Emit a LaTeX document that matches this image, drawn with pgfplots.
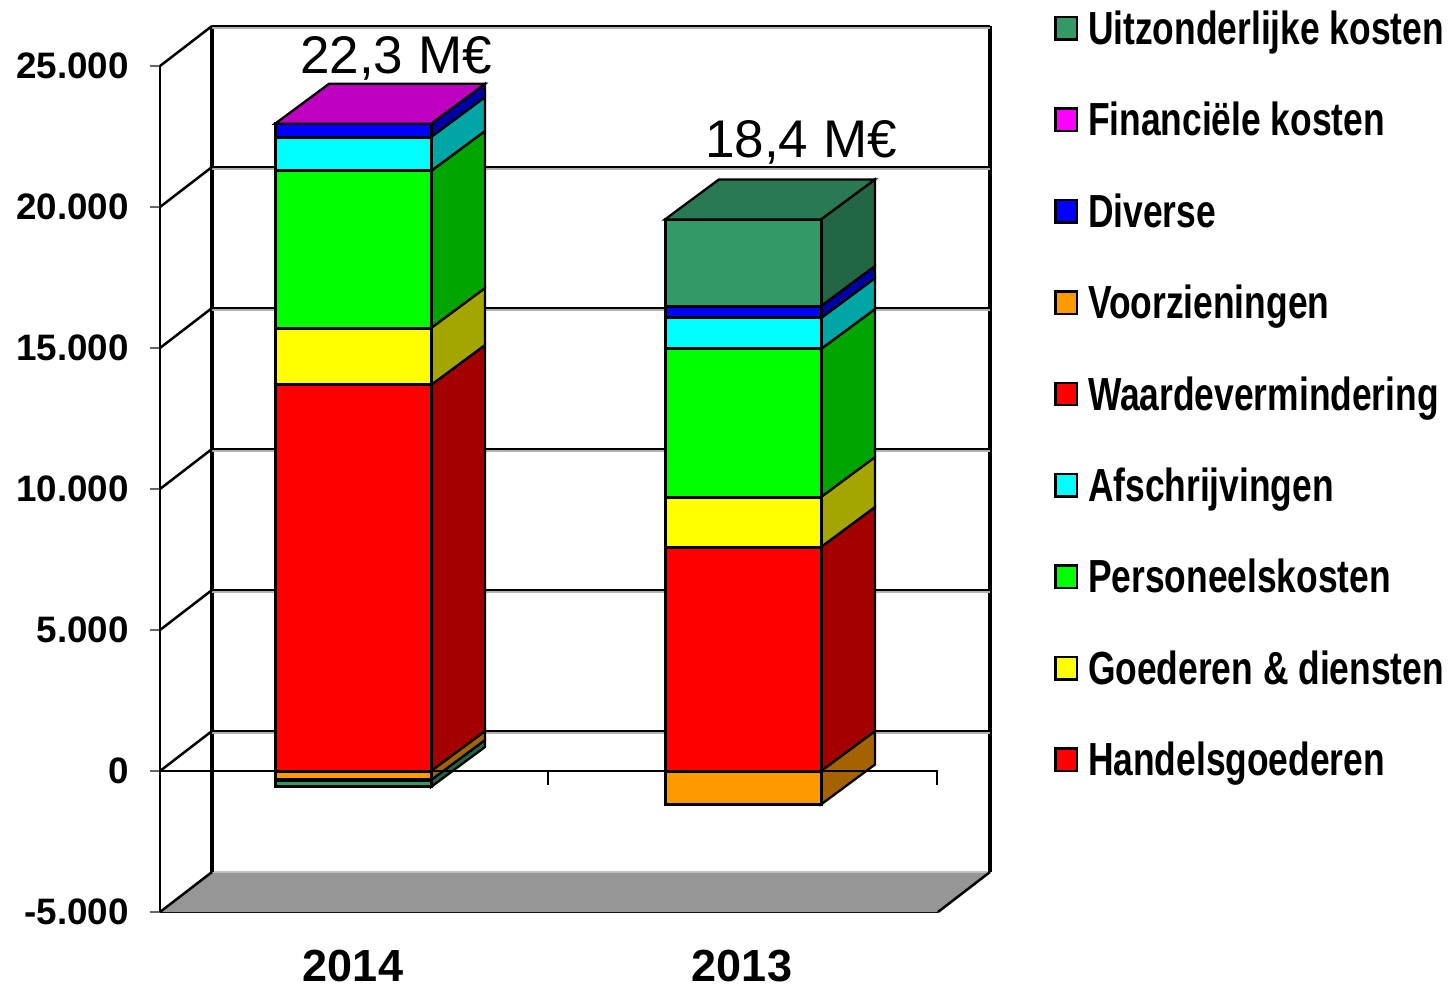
\documentclass[border=0pt]{standalone}
\usepackage{graphicx}
\usepackage{fontspec}
\setmainfont{Liberation Sans}
\usepackage{pgfplots}
\pgfplotsset{compat=1.18}
% picture: 1 px of the reference = 0.5 pt; x data in px, y in chart units (141 px = 5000)
\definecolor{cSea}{HTML}{339966}\definecolor{cSeaS}{HTML}{226644}\definecolor{cSeaT}{HTML}{297A52}
\definecolor{cMag}{HTML}{FF00FF}\definecolor{cMagT}{HTML}{C000C0}
\definecolor{cBlue}{HTML}{0000FF}\definecolor{cBlueS}{HTML}{0000A5}
\definecolor{cOr}{HTML}{FF9900}\definecolor{cOrS}{HTML}{A56300}
\definecolor{cRed}{HTML}{FF0000}\definecolor{cRedS}{HTML}{A50000}
\definecolor{cCy}{HTML}{00FFFF}\definecolor{cCyS}{HTML}{00A5A5}
\definecolor{cGr}{HTML}{00FF00}\definecolor{cGrS}{HTML}{00A500}
\definecolor{cYe}{HTML}{FFFF00}\definecolor{cYeS}{HTML}{A5A500}
\definecolor{cFloor}{HTML}{969696}
\newcommand\seg[5]{% x0, low, high, front, side
  \edef\xa{\the\numexpr#1+156\relax}\edef\xb{\the\numexpr#1+210\relax}%
  \edef\la{\the\numexpr#2+1418\relax}\edef\ha{\the\numexpr#3+1418\relax}%
  \addplot[forget plot,draw=black,fill=#5,line width=1.15pt] coordinates {(\xa,#2)(\xb,\la)(\xb,\ha)(\xa,#3)} --cycle;
  \addplot[forget plot,draw=black,fill=#4,line width=1.5pt] coordinates {(#1,#2)(\xa,#2)(\xa,#3)(#1,#3)} --cycle;
}
\newcommand\topface[3]{% x0, level, colour
  \edef\xa{\the\numexpr#1+156\relax}\edef\xb{\the\numexpr#1+210\relax}\edef\xc{\the\numexpr#1+54\relax}%
  \edef\ha{\the\numexpr#2+1418\relax}%
  \addplot[forget plot,draw=black,fill=#3,line width=1.15pt] coordinates {(#1,#2)(\xa,#2)(\xb,\ha)(\xc,\ha)} --cycle;
}
\newcommand\lev[1]{% one level of the walls
  \edef\ha{\the\numexpr#1+1418\relax}\edef\hb{\the\numexpr#1+1418-60\relax}%
  \addplot[forget plot,draw=black!30,line width=1pt] coordinates {(212,\hb)(990,\hb)};
  \addplot[forget plot,black,line width=1.35pt] coordinates {(212,\ha)(990,\ha)};
  \addplot[forget plot,black,line width=1.25pt] coordinates {(160,#1)(212,\ha)};
}
\newcommand\lt[1]{\scalebox{0.763}[1]{#1}}
\begin{document}
\begin{tikzpicture}
\path[use as bounding box] (0,0) rectangle (725pt,493pt);
\begin{axis}[
  at={(80pt,37pt)},anchor=south west,
  scale only axis,width=389pt,height=423pt,
  xmin=160,xmax=938,ymin=-5000,ymax=25000,clip=false,
  scaled y ticks=false,
  axis x line=bottom,axis y line=left,
  axis line style={-,black,line width=1.25pt},
  tick align=outside,
  xtick={353,742},xticklabels={2014,2013},
  major x tick style={draw=none},
  xticklabel style={font=\fontsize{22.5}{26}\selectfont\bfseries,inner sep=0pt,yshift=-14pt},
  ytick={-5000,0,5000,10000,15000,20000,25000},
  yticklabels={-5.000,0,5.000,10.000,15.000,20.000,25.000},
  major y tick style={black!60,line width=0.6pt},
  major tick length=5pt,
  yticklabel style={font=\fontsize{18.4}{22}\selectfont\bfseries,xshift=-7pt},
  legend cell align=left,
  legend style={at={(axis cs:1054,26915)},anchor=north west,draw=none,fill=none,inner sep=0pt,
    font=\fontsize{23.2}{26}\selectfont\bfseries,
    nodes={text height=16pt,text depth=5pt,inner sep=0pt},
    row sep=24.7pt,
    /tikz/every odd column/.append style={column sep=5pt}},
  legend image code/.code={\draw[#1,draw=black,line width=1.2pt] (0.6pt,-3.1pt) rectangle (11.2pt,8.1pt);},
]
% floor
\addplot[forget plot,draw=none,fill=cFloor] coordinates {(160,-5000)(938,-5000)(990,-3582)(212,-3582)} --cycle;
\addplot[forget plot,draw=black!25,line width=0.8pt] coordinates {(212,-3582)(990,-3582)};
\addplot[forget plot,black,line width=1.25pt] coordinates {(160,-5000)(212,-3582)};
\addplot[forget plot,black,line width=1.25pt] coordinates {(938,-5000)(990,-3582)};
% walls
\addplot[forget plot,black,line width=1.6pt] coordinates {(212,-3582)(212,26418)};
\addplot[forget plot,black,line width=1.6pt] coordinates {(990,-3582)(990,26418)};
\lev{0}\lev{5000}\lev{10000}\lev{15000}\lev{20000}\lev{25000}
% 2014
\seg{275}{-319}{-567}{cSea}{cSeaS}
\seg{275}{0}{-319}{cOr}{cOrS}
\seg{275}{0}{13688}{cRed}{cRedS}
\seg{275}{13688}{15709}{cYe}{cYeS}
\seg{275}{15709}{21277}{cGr}{cGrS}
\seg{275}{21277}{22482}{cCy}{cCyS}
\seg{275}{22482}{22950}{cBlue}{cBlueS}
\topface{275}{22950}{cMagT}
% 2013
\seg{665}{0}{-1188}{cOr}{cOrS}
\seg{665}{0}{7943}{cRed}{cRedS}
\seg{665}{7943}{9716}{cYe}{cYeS}
\seg{665}{9716}{14965}{cGr}{cGrS}
\seg{665}{14965}{16064}{cCy}{cCyS}
\seg{665}{16064}{16489}{cBlue}{cBlueS}
\seg{665}{16489}{19560}{cSea}{cSeaS}
\topface{665}{19560}{cSeaT}
% zero line with its ticks
\addplot[forget plot,black,line width=1.25pt] coordinates {(160,0)(938,0)};
\addplot[forget plot,black,line width=0.6pt] coordinates {(548,0)(548,-500)};
\addplot[forget plot,black,line width=0.6pt] coordinates {(937,0)(937,-500)};
% legend
\addlegendimage{fill=cSea}\addlegendentry{\lt{Uitzonderlijke kosten}}
\addlegendimage{fill=cMag}\addlegendentry{\lt{Financiële kosten}}
\addlegendimage{fill=cBlue}\addlegendentry{\lt{Diverse}}
\addlegendimage{fill=cOr}\addlegendentry{\lt{Voorzieningen}}
\addlegendimage{fill=cRed}\addlegendentry{\lt{Waardevermindering}}
\addlegendimage{fill=cCy}\addlegendentry{\lt{Afschrijvingen}}
\addlegendimage{fill=cGr}\addlegendentry{\lt{Personeelskosten}}
\addlegendimage{fill=cYe}\addlegendentry{\lt{Goederen \& diensten}}
\addlegendimage{fill=cRed}\addlegendentry{\lt{Handelsgoederen}}
% totals
\node[font=\fontsize{26.5}{30}\selectfont] at (axis cs:396,25287) {22,3 M€};
\node[font=\fontsize{26.5}{30}\selectfont] at (axis cs:801,22300) {18,4 M€};
\end{axis}
\end{tikzpicture}
\end{document}
